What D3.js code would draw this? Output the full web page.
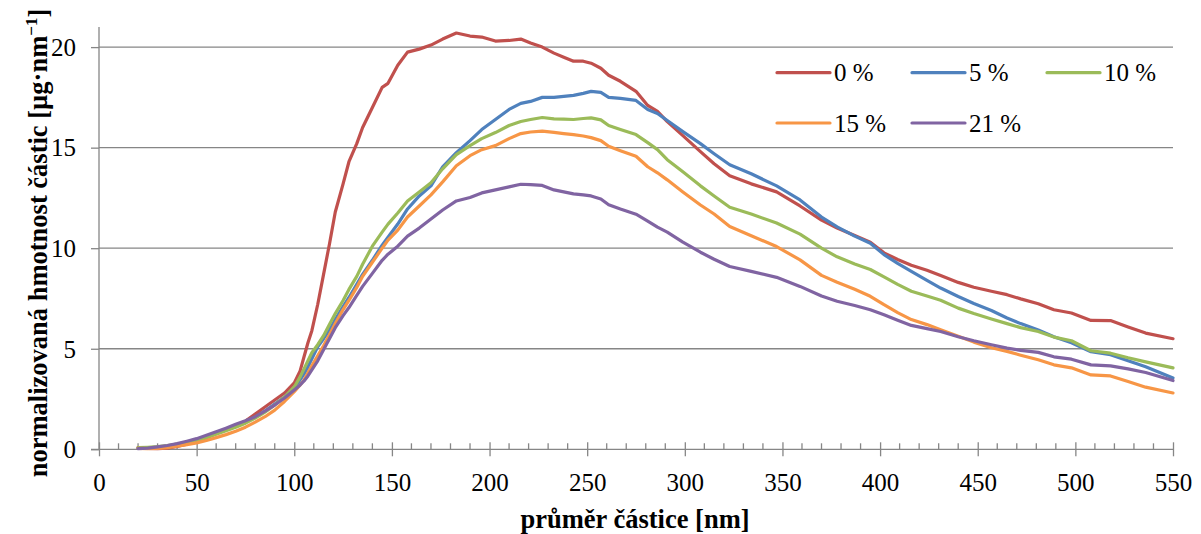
<!DOCTYPE html>
<html><head><meta charset="utf-8">
<script src="https://cdn.jsdelivr.net/npm/d3@7"></script>
<style>
html,body{margin:0;padding:0;background:#fff;}
svg text{font-family:"Liberation Serif","Times New Roman",serif;fill:#000;}
</style></head>
<body><svg id="chart" width="1201" height="534"></svg>
<script>
const diameters = [20,25,30,35,40,45,50,55,60,65,70,75,80,85,90,95,100,103,105,107,109,112,115,118,121,125,128,132,135,140,145,148,153,158,164,170,176,183,190,196,203,210,216,221,227,233,238,243,248,252,257,261,267,275,281,286,291,299,308,315,323,334,347,359,370,378,387,395,402,409,416,424,431,440,448,457,465,472,481,489,498,508,518,527,536,550];

const s0 = [0.08,0.04,0.03,0.06,0.14,0.26,0.42,0.58,0.78,0.98,1.18,1.4,1.75,2.1,2.45,2.8,3.3,3.9,4.6,5.3,5.9,7.2,8.7,10.2,11.8,13.2,14.3,15.2,16.0,17.0,18.0,18.2,19.1,19.75,19.9,20.1,20.4,20.7,20.55,20.5,20.3,20.33,20.4,20.2,20.0,19.7,19.5,19.3,19.3,19.2,18.95,18.6,18.3,17.8,17.1,16.8,16.3,15.6,14.8,14.2,13.6,13.2,12.8,12.1,11.4,11.0,10.63,10.3,9.77,9.44,9.15,8.9,8.64,8.3,8.06,7.86,7.69,7.48,7.24,6.94,6.78,6.41,6.4,6.08,5.78,5.5];
const s5 = [0.05,0.06,0.1,0.16,0.25,0.35,0.47,0.62,0.8,0.98,1.17,1.37,1.6,1.9,2.25,2.6,3.05,3.45,3.75,4.1,4.5,5.1,5.5,5.93,6.45,7.1,7.55,8.2,8.7,9.4,10.15,10.55,11.2,11.95,12.6,13.1,14.05,14.75,15.35,15.9,16.4,16.9,17.2,17.3,17.5,17.5,17.55,17.6,17.7,17.8,17.75,17.5,17.45,17.35,16.9,16.7,16.35,15.8,15.2,14.7,14.15,13.7,13.1,12.4,11.55,11.06,10.6,10.25,9.68,9.25,8.85,8.4,8.02,7.6,7.25,6.9,6.53,6.25,5.93,5.6,5.3,4.85,4.7,4.4,4.1,3.55];
const s10 = [0.08,0.1,0.13,0.18,0.26,0.35,0.45,0.58,0.75,0.92,1.1,1.3,1.55,1.85,2.2,2.6,3.1,3.6,4.0,4.4,4.8,5.2,5.65,6.2,6.75,7.4,7.95,8.6,9.2,10.1,10.8,11.2,11.75,12.35,12.8,13.25,13.95,14.65,15.1,15.45,15.75,16.1,16.3,16.4,16.5,16.43,16.42,16.4,16.45,16.48,16.38,16.1,15.9,15.65,15.25,14.9,14.4,13.8,13.1,12.6,12.04,11.7,11.25,10.7,10.0,9.57,9.22,8.94,8.57,8.2,7.86,7.62,7.41,7.02,6.75,6.48,6.25,6.05,5.86,5.58,5.4,4.9,4.78,4.55,4.35,4.05];
const s15 = [0.05,0.03,0.04,0.08,0.15,0.23,0.32,0.44,0.58,0.73,0.9,1.1,1.35,1.62,1.95,2.38,2.87,3.2,3.45,3.8,4.15,4.65,5.15,5.7,6.25,6.95,7.4,8.05,8.6,9.3,10.0,10.4,10.9,11.55,12.1,12.65,13.3,14.1,14.6,14.9,15.1,15.45,15.7,15.78,15.82,15.76,15.7,15.65,15.58,15.5,15.35,15.07,14.85,14.57,14.05,13.75,13.4,12.8,12.15,11.7,11.08,10.62,10.08,9.42,8.65,8.31,7.96,7.61,7.19,6.8,6.45,6.2,5.95,5.62,5.33,5.05,4.87,4.68,4.45,4.2,4.05,3.7,3.65,3.37,3.09,2.8];
const s21 = [0.03,0.06,0.12,0.19,0.28,0.4,0.53,0.7,0.87,1.05,1.24,1.42,1.62,1.9,2.2,2.55,2.95,3.2,3.4,3.65,3.95,4.4,4.95,5.5,6.05,6.65,7.05,7.65,8.1,8.75,9.4,9.7,10.1,10.6,11.0,11.45,11.9,12.35,12.52,12.75,12.9,13.05,13.18,13.16,13.12,12.9,12.8,12.7,12.65,12.6,12.45,12.16,11.95,11.69,11.35,11.05,10.8,10.3,9.8,9.45,9.09,8.85,8.55,8.1,7.62,7.36,7.15,6.94,6.69,6.42,6.16,6.0,5.86,5.6,5.4,5.2,5.03,4.92,4.82,4.6,4.48,4.2,4.15,4.0,3.82,3.42];

const seriesNames = ["0 %","5 %","10 %","15 %","21 %"];
const seriesValues = [s0,s5,s10,s15,s21];
const seriesColors = ["#C0504D","#4F81BD","#9BBB59","#F79646","#8064A2"];
const xTicks = [0,50,100,150,200,250,300,350,400,450,500,550];
const yTicks = [0,5,10,15,20];

const svg = d3.select("#chart");
const L = 99, R = 1173, T = 27, B = 449.3;
const x = d3.scaleLinear().domain([0,550]).range([L,R]);
const y = d3.scaleLinear().domain([0,21]).range([B,T]);
const gray = "#868686";

// gridlines
svg.append("g").selectAll("line").data(yTicks.filter(d=>d>0)).join("line")
  .attr("x1",L).attr("x2",R).attr("y1",d=>y(d)).attr("y2",d=>y(d))
  .attr("stroke",gray).attr("stroke-width",1.3);

// y axis
const yAxis = svg.append("g").attr("transform",`translate(${L},0)`)
  .call(d3.axisLeft(y).tickValues(yTicks).tickSize(8).tickPadding(15).tickFormat(d3.format("d")));
yAxis.select(".domain").attr("d",`M0,${T}V${B}`).attr("stroke",gray).attr("stroke-width",1.3);
yAxis.selectAll(".tick line").attr("stroke",gray).attr("stroke-width",1.3);
yAxis.selectAll(".tick text").attr("font-size",25).attr("font-family","Liberation Serif").attr("dy","0.33em");

// x axis minor ticks
const minor = d3.range(0,551,10).filter(d=>d%50!==0);
svg.append("g").selectAll("line").data(minor).join("line")
  .attr("x1",d=>x(d)).attr("x2",d=>x(d)).attr("y1",B-6).attr("y2",B)
  .attr("stroke",gray).attr("stroke-width",1.3);

const xAxis = svg.append("g").attr("transform",`translate(0,${B})`)
  .call(d3.axisBottom(x).tickValues(xTicks).tickSizeInner(7).tickSizeOuter(0).tickPadding(17).tickFormat(d3.format("d")));
xAxis.select(".domain").attr("d",`M${L-8},0H${R}`).attr("stroke",gray).attr("stroke-width",1.3);
xAxis.selectAll(".tick line").attr("y1",-7).attr("y2",7).attr("stroke",gray).attr("stroke-width",1.3);
xAxis.selectAll(".tick text").attr("font-size",25).attr("font-family","Liberation Serif").attr("dy","0.71em");

// lines
const line = d3.line().x((d,i)=>x(diameters[i])).y(d=>y(d));
svg.append("g").selectAll("path").data(seriesValues).join("path")
  .attr("d",d=>line(d)).attr("fill","none")
  .attr("stroke",(d,i)=>seriesColors[i]).attr("stroke-width",3.2)
  .attr("stroke-linejoin","round").attr("stroke-linecap","round");

// legend
const legPos = [[777,72.7],[912,72.7],[1047,72.7],[777,123],[912,123]];
const leg = svg.append("g").selectAll("g").data(seriesNames).join("g")
  .attr("transform",(d,i)=>`translate(${legPos[i][0]},${legPos[i][1]})`);
leg.append("line").attr("x1",0).attr("x2",53).attr("y1",0).attr("y2",0)
  .attr("stroke",(d,i)=>seriesColors[i]).attr("stroke-width",3.2).attr("stroke-linecap","round");
leg.append("text").attr("x",57).attr("y",8.5).attr("font-size",25).text(d=>d);

// axis titles
svg.append("text").attr("x",635).attr("y",527.7).attr("text-anchor","middle")
  .attr("font-size",26.5).attr("font-weight","bold").text("průměr částice [nm]");

const yt = svg.append("text").attr("transform","translate(46.5,243) rotate(-90)")
  .attr("text-anchor","middle").attr("font-size",26.5).attr("font-weight","bold");
yt.append("tspan").text("normalizovaná hmotnost částic [µg·nm");
yt.append("tspan").attr("dy",-10).attr("font-size",17).text("−1");
yt.append("tspan").attr("dy",10).text("]");
</script></body></html>
